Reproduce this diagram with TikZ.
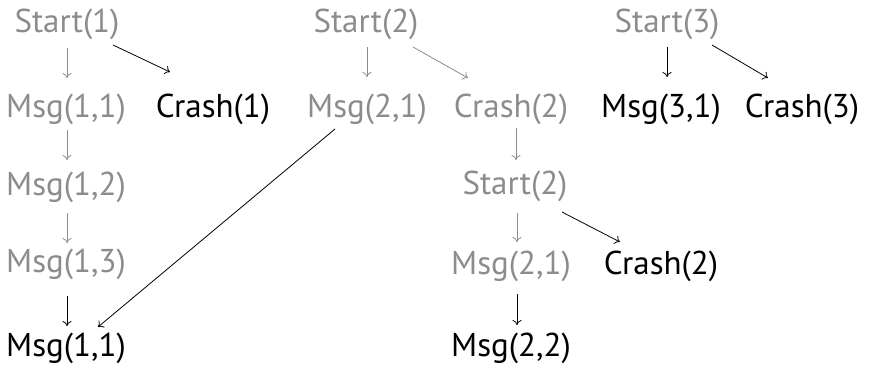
\documentclass[tikz,border=0pt]{standalone}
\usepackage{fontspec}
\setmainfont{PT Sans}
\usetikzlibrary{arrows.meta}
\definecolor{fade}{RGB}{140,140,140}
\begin{document}
\begin{tikzpicture}[x=1pt,y=-1pt,
  lbl/.style={anchor=base, inner sep=0pt, font=\fontsize{33}{36}\selectfont},
  dim/.style={lbl, text=fade},
  arr/.style={-{Computer Modern Rightarrow[length=5pt,width=9pt]}, line width=0.8pt},
  darr/.style={arr, draw=fade}]
\useasboundingbox (0,0) rectangle (874,373);
% column 1/2
\node[dim] (s1)  at (67,32)  {Start(1)};
\node[dim] (m11) at (66,117) {Msg(1,1)};
\node[lbl] (c1)  at (213,117) {Crash(1)};
\node[dim] (m12) at (66,195) {Msg(1,2)};
\node[dim] (m13) at (66,272) {Msg(1,3)};
\node[lbl] (m11b) at (66,356) {Msg(1,1)};
% column 3/4
\node[dim] (s2)  at (366,32)  {Start(2)};
\node[dim] (m21) at (367,117) {Msg(2,1)};
\node[dim] (c2)  at (511,117) {Crash(2)};
\node[dim] (s2b) at (515,194) {Start(2)};
\node[dim] (m21b) at (511,274) {Msg(2,1)};
\node[lbl] (c2b) at (661,274) {Crash(2)};
\node[lbl] (m22) at (511,356) {Msg(2,2)};
% column 5/6
\node[dim] (s3)  at (667,32)  {Start(3)};
\node[lbl] (m31) at (661,117) {Msg(3,1)};
\node[lbl] (c3)  at (802,117) {Crash(3)};
% arrows
\draw[darr] ([shift={(0,16)}]s1.base) -- ([shift={(1,-39)}]m11.base);
\draw[arr]  ([shift={(46,13)}]s1.base) -- ([shift={(-43,-45)}]c1.base);
\draw[darr] ([shift={(1,13)}]m11.base) -- ([shift={(1,-35)}]m12.base);
\draw[darr] ([shift={(1,18)}]m12.base) -- ([shift={(1,-29)}]m13.base);
\draw[arr]  ([shift={(1,24)}]m13.base) -- ([shift={(1,-30)}]m11b.base);
\draw[darr] ([shift={(1,15)}]s2.base) -- ([shift={(0,-40)}]m21.base);
\draw[darr] ([shift={(47,15)}]s2.base) -- ([shift={(-43,-39)}]c2.base);
\draw[arr]  ([shift={(-32,12)}]m21.base) -- ([shift={(32,-29)}]m11b.base);
\draw[darr] ([shift={(5,11)}]c2.base) -- ([shift={(1,-34)}]s2b.base);
\draw[darr] ([shift={(2,19)}]s2b.base) -- ([shift={(6,-32)}]m21b.base);
\draw[arr]  ([shift={(47,18)}]s2b.base) -- ([shift={(-41,-32)}]c2b.base);
\draw[arr]  ([shift={(6,20)}]m21b.base) -- ([shift={(6,-31)}]m22.base);
\draw[arr]  ([shift={(0,15)}]s3.base) -- ([shift={(6,-40)}]m31.base);
\draw[arr]  ([shift={(45,13)}]s3.base) -- ([shift={(-34,-39)}]c3.base);
\end{tikzpicture}
\end{document}
